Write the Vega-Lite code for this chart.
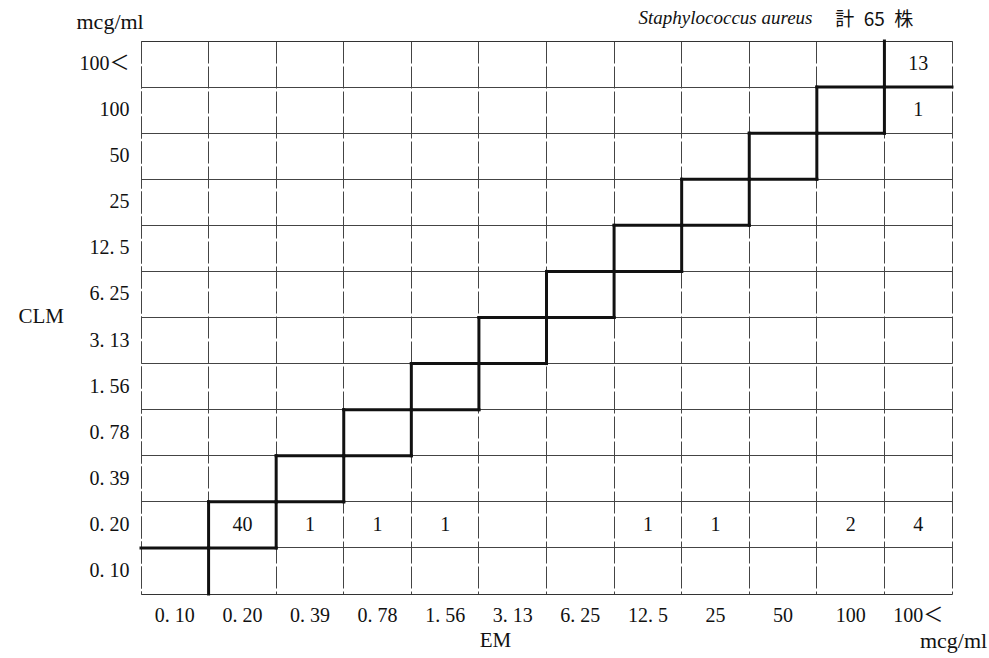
{
  "$schema": "https://vega.github.io/schema/vega-lite/v6.json",
  "width": 811,
  "height": 553,
  "autosize": "none",
  "padding": {"left": 141, "top": 41, "right": 37, "bottom": 64},
  "background": "white",
  "config": {
    "view": {"stroke": null},
    "font": "Liberation Serif",
    "text": {"font": "Liberation Serif"}
  },
  "title": {
    "text": "mcg/ml",
    "orient": "bottom",
    "anchor": "end",
    "align": "right",
    "dx": 33,
    "dy": -23,
    "font": "Liberation Serif",
    "fontSize": 22,
    "fontWeight": "normal",
    "color": "#111"
  },
  "datasets": {
    "counts": [
      {"EM": "0.20", "CLM": "0.20", "n": 40},
      {"EM": "0.39", "CLM": "0.20", "n": 1},
      {"EM": "0.78", "CLM": "0.20", "n": 1},
      {"EM": "1.56", "CLM": "0.20", "n": 1},
      {"EM": "12.5", "CLM": "0.20", "n": 1},
      {"EM": "25", "CLM": "0.20", "n": 1},
      {"EM": "100", "CLM": "0.20", "n": 2},
      {"EM": "100<", "CLM": "0.20", "n": 4},
      {"EM": "100<", "CLM": "100", "n": 1},
      {"EM": "100<", "CLM": "100<", "n": 13}
    ],
    "diag": [
      {"EM": "0.10", "CLM": "0.10"},
      {"EM": "0.20", "CLM": "0.20"},
      {"EM": "0.39", "CLM": "0.39"},
      {"EM": "0.78", "CLM": "0.78"},
      {"EM": "1.56", "CLM": "1.56"},
      {"EM": "3.13", "CLM": "3.13"},
      {"EM": "6.25", "CLM": "6.25"},
      {"EM": "12.5", "CLM": "12.5"},
      {"EM": "25", "CLM": "25"},
      {"EM": "50", "CLM": "50"},
      {"EM": "100", "CLM": "100"},
      {"EM": "100<", "CLM": "100<"}
    ]
  },
  "resolve": {"axis": {"x": "independent", "y": "independent"}},
  "layer": [
    {
      "data": {"name": "diag"},
      "transform": [{"filter": "datum.EM != '0.10'"}],
      "mark": {"type": "rule", "strokeWidth": 3, "color": "#111", "strokeCap": "square"},
      "encoding": {
        "x": {
          "field": "EM", "type": "ordinal", "bandPosition": 0,
          "scale": {"type": "band", "paddingInner": 0, "paddingOuter": 0, "domain": ["0.10","0.20","0.39","0.78","1.56","3.13","6.25","12.5","25","50","100","100<"]},
          "axis": {
            "orient": "top", "bandPosition": 0, "ticks": false,
            "domain": true, "domainColor": "#333", "domainWidth": 1.2,
            "grid": true, "gridColor": "#444", "gridWidth": 1, "gridDash": [22, 3],
            "labelExpr": "datum.value == '100<' ? '計\u200265\u2002株' : ''",
            "labelFont": "Noto Sans CJK JP", "labelFontSize": 19, "labelColor": "#111",
            "labelAngle": 0, "labelAlign": "center", "labelOffset": -44, "labelBaseline": "alphabetic", "labelPadding": 16,
            "labelOverlap": false, "labelBound": false,
            "title": "Staphylococcus aureus", "titleFont": "Liberation Serif", "titleFontStyle": "italic",
            "titleFontWeight": "normal", "titleFontSize": 19, "titleColor": "#111",
            "titleAlign": "right", "titleBaseline": "alphabetic", "titleX": 671, "titleY": -18
          }
        },
        "y": {
          "field": "CLM", "type": "ordinal", "bandPosition": 0,
          "scale": {"type": "band", "paddingInner": 0, "paddingOuter": 0, "domain": ["100<","100","50","25","12.5","6.25","3.13","1.56","0.78","0.39","0.20","0.10"]},
          "axis": {
            "orient": "right", "bandPosition": 0, "ticks": false, "labels": false,
            "domain": true, "domainColor": "#444", "domainWidth": 1, "domainDash": [22, 3],
            "grid": true, "gridColor": "#444", "gridWidth": 1,
            "title": "mcg/ml", "titleFont": "Liberation Serif", "titleFontWeight": "normal",
            "titleFontSize": 22, "titleColor": "#111", "titleAngle": 0,
            "titleAlign": "left", "titleBaseline": "alphabetic", "titleX": -876, "titleY": -13
          }
        },
        "y2": {"field": "CLM", "bandPosition": 1}
      }
    },
    {
      "data": {"name": "diag"},
      "transform": [{"filter": "datum.EM != '100<'"}],
      "mark": {"type": "rule", "strokeWidth": 3, "color": "#111", "strokeCap": "square"},
      "encoding": {
        "x": {"field": "EM", "type": "ordinal", "bandPosition": 1, "axis": null,
          "scale": {"type": "band", "paddingInner": 0, "paddingOuter": 0, "domain": ["0.10","0.20","0.39","0.78","1.56","3.13","6.25","12.5","25","50","100","100<"]}},
        "y": {"field": "CLM", "type": "ordinal", "bandPosition": 0, "axis": null,
          "scale": {"type": "band", "paddingInner": 0, "paddingOuter": 0, "domain": ["100<","100","50","25","12.5","6.25","3.13","1.56","0.78","0.39","0.20","0.10"]}},
        "y2": {"field": "CLM", "bandPosition": 1}
      }
    },
    {
      "data": {"name": "diag"},
      "transform": [{"filter": "datum.EM != '100<'"}],
      "mark": {"type": "rule", "strokeWidth": 3, "color": "#111", "strokeCap": "square"},
      "encoding": {
        "x": {"field": "EM", "type": "ordinal", "bandPosition": 0, "axis": null,
          "scale": {"type": "band", "paddingInner": 0, "paddingOuter": 0, "domain": ["0.10","0.20","0.39","0.78","1.56","3.13","6.25","12.5","25","50","100","100<"]}},
        "x2": {"field": "EM", "bandPosition": 1},
        "y": {"field": "CLM", "type": "ordinal", "bandPosition": 0, "axis": null,
          "scale": {"type": "band", "paddingInner": 0, "paddingOuter": 0, "domain": ["100<","100","50","25","12.5","6.25","3.13","1.56","0.78","0.39","0.20","0.10"]}}
      }
    },
    {
      "data": {"name": "diag"},
      "transform": [{"filter": "datum.EM != '0.10'"}],
      "mark": {"type": "rule", "strokeWidth": 3, "color": "#111", "strokeCap": "square"},
      "encoding": {
        "x": {"field": "EM", "type": "ordinal", "bandPosition": 0, "axis": null,
          "scale": {"type": "band", "paddingInner": 0, "paddingOuter": 0, "domain": ["0.10","0.20","0.39","0.78","1.56","3.13","6.25","12.5","25","50","100","100<"]}},
        "x2": {"field": "EM", "bandPosition": 1},
        "y": {"field": "CLM", "type": "ordinal", "bandPosition": 1, "axis": null,
          "scale": {"type": "band", "paddingInner": 0, "paddingOuter": 0, "domain": ["100<","100","50","25","12.5","6.25","3.13","1.56","0.78","0.39","0.20","0.10"]}}
      }
    },
    {
      "data": {"name": "counts"},
      "mark": {"type": "text", "font": "Liberation Serif", "fontSize": 20, "color": "#111", "baseline": "middle", "align": "center"},
      "encoding": {
        "x": {
          "field": "EM", "type": "ordinal",
          "scale": {"type": "band", "paddingInner": 0, "paddingOuter": 0, "domain": ["0.10","0.20","0.39","0.78","1.56","3.13","6.25","12.5","25","50","100","100<"]},
          "axis": {
            "orient": "bottom", "ticks": false, "grid": false,
            "domain": true, "domainColor": "#333", "domainWidth": 1.2,
            "labelExpr": "replace(replace(datum.label, '.', '. '), '<', '＜')",
            "labelFont": "Liberation Serif, Noto Sans CJK JP", "labelFontSize": 20, "labelColor": "#111",
            "labelAngle": 0, "labelPadding": 11, "labelOverlap": false,
            "title": "EM", "titleFont": "Liberation Serif", "titleFontWeight": "normal",
            "titleFontSize": 21, "titleColor": "#111",
            "titleAlign": "center", "titleBaseline": "alphabetic", "titleX": 354, "titleY": 52
          }
        },
        "y": {
          "field": "CLM", "type": "ordinal",
          "scale": {"type": "band", "paddingInner": 0, "paddingOuter": 0, "domain": ["100<","100","50","25","12.5","6.25","3.13","1.56","0.78","0.39","0.20","0.10"]},
          "axis": {
            "orient": "left", "ticks": false, "grid": false,
            "domain": true, "domainColor": "#444", "domainWidth": 1, "domainDash": [22, 3],
            "labelExpr": "replace(replace(datum.label, '.', '. '), '<', '＜')",
            "labelFont": "Liberation Serif, Noto Sans CJK JP", "labelFontSize": 20, "labelColor": "#111",
            "labelPadding": 12, "labelOverlap": false,
            "title": "CLM", "titleFont": "Liberation Serif", "titleFontWeight": "normal",
            "titleFontSize": 21, "titleColor": "#111", "titleAngle": 0,
            "titleAlign": "left", "titleBaseline": "alphabetic", "titleX": -123, "titleY": 281
          }
        },
        "text": {"field": "n", "type": "quantitative"}
      }
    }
  ]
}
